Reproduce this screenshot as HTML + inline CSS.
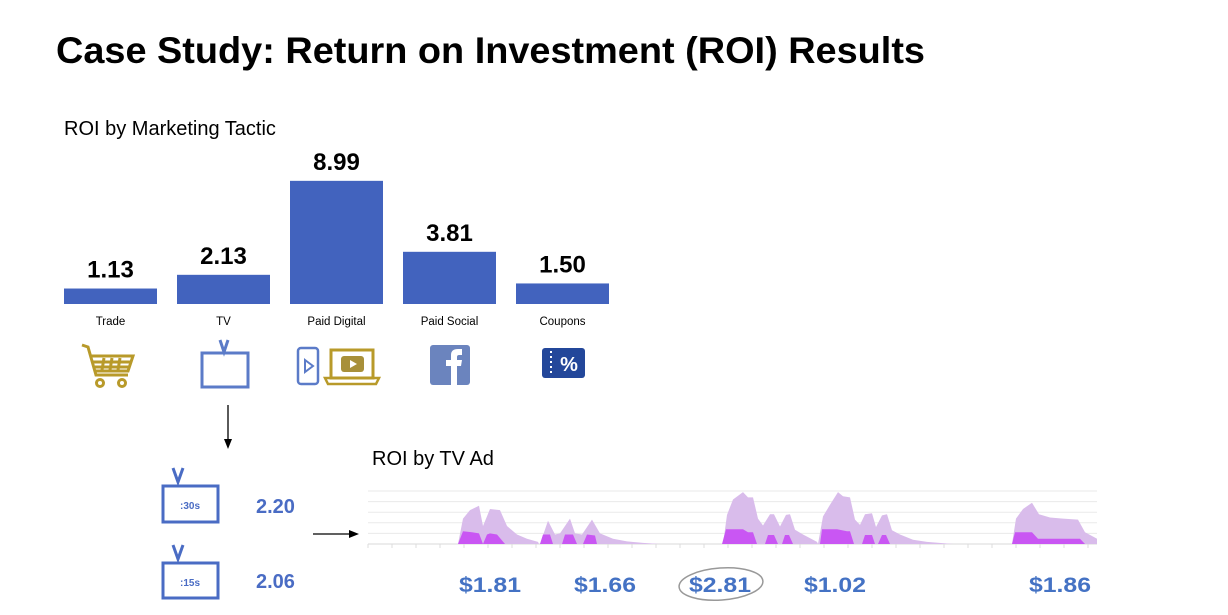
<!DOCTYPE html>
<html><head><meta charset="utf-8"><style>
html,body{margin:0;padding:0;background:#fff;}
svg{display:block;font-family:"Liberation Sans",sans-serif;}
</style></head><body>
<svg id="chart" width="1228" height="615" viewBox="0 0 1228 615" xmlns="http://www.w3.org/2000/svg">
<text x="56" y="63" font-size="37" font-weight="bold" textLength="869" lengthAdjust="spacingAndGlyphs">Case Study:  Return on Investment (ROI) Results</text>
<text x="64" y="135" font-size="20">ROI by Marketing Tactic</text>
<text x="372" y="465" font-size="20">ROI by TV Ad</text>
<g id="bars"></g>
<g fill="none" stroke="#B89A2A" stroke-width="3">
<path d="M82 345 L88 347 L96 375 L128 375"/><path d="M90 356 L133 356 L128 371 L94 371"/>
<path d="M104 358 L102 370 M112 358 L110 370 M120 358 L118 370 M93 362 L131 362 M95 367 L129 367"/>
<circle cx="100" cy="383" r="3.5"/><circle cx="122" cy="383" r="3.5"/>
</g>
<g fill="none" stroke="#5B7BC8" stroke-width="3">
<path d="M220 340 L224 352 L228 340"/><rect x="202" y="353" width="46" height="34"/>
</g>
<g>
<rect x="298" y="348" width="20" height="36" rx="3" fill="none" stroke="#5B7BC8" stroke-width="2.5"/>
<path d="M305 360 L313 366 L305 372 Z" fill="none" stroke="#5B7BC8" stroke-width="2"/>
<rect x="331" y="350" width="42" height="28" fill="none" stroke="#B89A2A" stroke-width="3"/>
<path d="M325 378 L379 378 L376 384 L328 384 Z" fill="none" stroke="#B89A2A" stroke-width="2.5"/>
<rect x="341" y="356" width="23" height="16" rx="3" fill="#A8903A"/>
<path d="M350 360 L357 364 L350 368 Z" fill="#fff"/>
</g>
<g>
<rect x="430" y="345" width="40" height="40" rx="3" fill="#6B84BE"/>
<path d="M451 385 L451 366 L446 366 L446 360 L451 360 L451 355 Q451 349 458 349 L462 349 L462 355 L459 355 Q457 355 457 357 L457 360 L462 360 L461 366 L457 366 L457 385 Z" fill="#fff"/>
</g>
<g>
<rect x="542" y="348" width="43" height="30" rx="3" fill="#23479A"/>
<path d="M551 351 V376" stroke="#fff" stroke-width="2" stroke-dasharray="2 3"/>
<text x="569" y="371" font-size="20" font-weight="bold" fill="#fff" text-anchor="middle">%</text>
</g>
<line x1="228" y1="405" x2="228" y2="440" stroke="#000" stroke-width="1.3"/>
<path d="M224 439 L228 449 L232 439 Z" fill="#000"/>
<line x1="313" y1="534" x2="350" y2="534" stroke="#000" stroke-width="1.3"/>
<path d="M349 530 L359 534 L349 538 Z" fill="#000"/>
<g fill="none" stroke="#4A6CC4" stroke-width="3">
<path d="M173 468 L178 482 L183 468"/><rect x="163" y="486" width="55" height="36"/>
</g>
<text x="190" y="509" font-size="10" font-weight="bold" fill="#4A6CC4" text-anchor="middle">:30s</text>
<text x="256" y="513" font-size="20" font-weight="bold" fill="#4A6CC4">2.20</text>
<g fill="none" stroke="#4A6CC4" stroke-width="3">
<path d="M173 545 L178 559 L183 545"/><rect x="163" y="563" width="55" height="35"/>
</g>
<text x="190" y="586" font-size="10" font-weight="bold" fill="#4A6CC4" text-anchor="middle">:15s</text>
<text x="256" y="588" font-size="20" font-weight="bold" fill="#4A6CC4">2.06</text>
<g id="area"></g>
<g id="adlabels"></g>
<ellipse cx="721" cy="584" rx="42" ry="16" fill="none" stroke="#999" stroke-width="1.5" transform="rotate(-4 721 584)"/>
</svg>
<script>
const categories = ["Trade","TV","Paid Digital","Paid Social","Coupons"];
const roiValues = [1.13, 2.13, 8.99, 3.81, 1.50];
const roiLabels = ["1.13","2.13","8.99","3.81","1.50"];

const lightT = [0,90,95,102,111,115,122,132,139,149,159,170,171,172,180,187,192,202,207,214,224,232,245,259,275,292,355,359,365,375,380,385,390,395,402,406,412,418,422,427,435,445,449,450,455,462,470,475,482,487,492,497,504,508,514,519,524,532,545,559,579,585,644,648,655,664,671,682,695,710,717,727,729];
const lightV = [0,0,2.4,3.2,3.6,1.7,3.3,3.2,1.7,0.9,0.5,0.2,0,0,2.2,0.9,1.0,2.4,1.0,0.9,2.3,1.0,0.5,0.25,0.1,0,0,2.75,4.2,4.9,4.4,4.4,2.4,1.75,2.8,2.8,1.65,2.75,2.8,1.35,0.9,0.4,0.2,0,2.6,3.7,4.9,4.5,4.4,2.3,1.8,2.8,2.9,1.6,2.7,2.8,1.3,0.9,0.4,0.2,0.05,0,0,2.4,3.3,3.9,2.8,2.5,2.4,2.3,1.1,0.6,0.5];
const darkT = [90,95,104,111,115,119,122,129,137,172,175,182,185,194,197,205,209,215,219,227,229,354,358,375,380,385,389,397,400,406,410,414,417,421,425,452,454,469,479,482,486,494,497,504,507,510,514,518,522,644,647,664,670,712,717];
const darkV = [0,1.2,1.1,1.0,0,0.9,1.0,0.9,0,0,0.9,0.9,0,0,0.9,0.9,0,0,0.9,0.8,0,0,1.4,1.4,1.1,1.1,0,0,0.85,0.85,0,0,0.85,0.85,0,0,1.4,1.4,1.2,1.2,0,0,0.85,0.85,0,0,0.85,0.85,0,0,1.1,1.1,0.5,0.5,0];
const adLabels = ["$1.81","$1.66","$2.81","$1.02","$1.86"];
const adLabelT = [122,237,352,467,692];
const gridTicks = [0,1,2,3,4,5];

const NS = "http://www.w3.org/2000/svg";
function mk(tag, attrs, parent){const e=document.createElementNS(NS,tag);for(const k in attrs)e.setAttribute(k,attrs[k]);parent.appendChild(e);return e;}

const barsG = document.getElementById("bars");
const baseY = 304, unitPx = 13.7, bx0 = 64, bStep = 113, bW = 93;
const xBar = i => bx0 + i*bStep;
const yBar = v => baseY - v*unitPx;
categories.forEach((c,i)=>{
  const r = mk("rect",{x:xBar(i),y:yBar(roiValues[i]),width:bW,height:baseY-yBar(roiValues[i]),fill:"#4263BE"},barsG);
  
  
  const v = mk("text",{x:xBar(i)+bW/2,y:yBar(roiValues[i])-11,"font-size":24,"font-weight":"bold","text-anchor":"middle"},barsG);
  v.textContent = roiLabels[i];
  
  
  const l = mk("text",{x:xBar(i)+bW/2,y:325,"font-size":11.5,"text-anchor":"middle"},barsG);
  l.textContent = c;
  
  
});

const areaG = document.getElementById("area");
const ax0 = 368, ax1 = 1097, aBase = 544, aUnit = 10.6;
const xA = t => ax0 + t*(ax1-ax0)/729;
const yA = v => aBase - v*aUnit;
gridTicks.forEach(g=>{
  const ln = mk("line",{x1:ax0,x2:ax1,y1:yA(g),y2:yA(g),stroke:g===0?"#d8d8d8":"#eaeaea","stroke-width":1},areaG);
  
  
});
for(let t=0;t<=729;t+=24){
  const tk = mk("line",{x1:xA(t),x2:xA(t),y1:aBase,y2:aBase+4,stroke:"#ddd"},areaG);
  
  
}
function areaPath(T,V){let d="M"+xA(T[0])+" "+aBase;T.forEach((t,i)=>{d+=" L"+xA(t).toFixed(1)+" "+yA(V[i]).toFixed(1);});d+=" L"+xA(T[T.length-1])+" "+aBase+" Z";return d;}
const lp = mk("path",{d:areaPath(lightT,lightV),fill:"#D9BCEB"},areaG);


const dp = mk("path",{d:areaPath(darkT,darkV),fill:"#C956F3"},areaG);



const labG = document.getElementById("adlabels");
adLabels.forEach((s,i)=>{
  const t = mk("text",{x:xA(adLabelT[i]),y:592,"font-size":21,"font-weight":"bold",fill:"#4472C4","text-anchor":"middle",textLength:62,lengthAdjust:"spacingAndGlyphs"},labG);
  t.textContent = s;
  
  
});
</script>
</body></html>
